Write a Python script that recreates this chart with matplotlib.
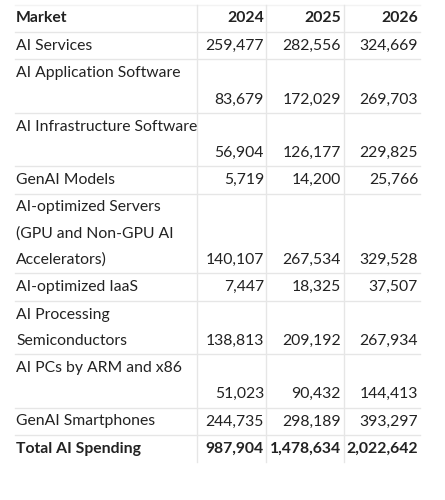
import matplotlib
matplotlib.use("Agg")
import matplotlib.pyplot as plt

header = ["Market", "2024", "2025", "2026"]
markets = [["AI Services"], ["AI Application Software", ""], ["AI Infrastructure Software", ""],
           ["GenAI Models"], ["AI-optimized Servers", "(GPU and Non-GPU AI", "Accelerators)"],
           ["AI-optimized IaaS"], ["AI Processing", "Semiconductors"], ["AI PCs by ARM and x86", ""],
           ["GenAI Smartphones"], ["Total AI Spending"]]
v2024 = ["259,477", "83,679", "56,904", "5,719", "140,107", "7,447", "138,813", "51,023", "244,735", "987,904"]
v2025 = ["282,556", "172,029", "126,177", "14,200", "267,534", "18,325", "209,192", "90,432", "298,189", "1,478,634"]
v2026 = ["324,669", "269,703", "229,825", "25,766", "329,528", "37,507", "267,934", "144,413", "393,297", "2,022,642"]

W, H = 445, 500
fig = plt.figure(figsize=(W/100, H/100), dpi=100)
ax = fig.add_axes([0, 0, 1, 1])
ax.set_xlim(0, W); ax.set_ylim(H, 0); ax.axis("off")

fam = ["Lato", "DejaVu Sans"]
fs = 11.3
lh = 26.25
xl, xr = 15, 420
col_edges = [15, 197, 266, 344, 420]
right_x = [None, 264, 341, 418]
grid = "#e6e6e6"

y0 = 5
lines_y = [y0]
y = y0
ax.text(16, y + 13, header[0], fontsize=fs, fontweight="bold", family=fam, va="center", color="#222")
for j in range(1, 4):
    ax.text(right_x[j], y + 13, header[j], fontsize=fs, fontweight="bold", family=fam, va="center", ha="right", color="#222")
y += 27
lines_y.append(y)
for i, m in enumerate(markets):
    bold = i == len(markets) - 1
    fw = "bold" if bold else "normal"
    for k, t in enumerate(m):
        ax.text(16, y + 14 + k*lh, t, fontsize=fs, fontweight=fw, family=fam, va="center", color="#222")
    yl = y + 14 + (len(m)-1)*lh
    for j, vals in enumerate([v2024, v2025, v2026], start=1):
        ax.text(right_x[j], yl, vals[i], fontsize=fs, fontweight=fw, family=fam, va="center", ha="right", color="#222")
    y += len(m)*lh + 1
    lines_y.append(y)

for ly in lines_y[1:-1]:
    ax.plot([xl, xr], [ly, ly], color=grid, lw=1)
ax.plot([xl, xr], [lines_y[0], lines_y[0]], color="#f3f3f3", lw=1)
for cx in col_edges[1:-1]:
    ax.plot([cx, cx], [lines_y[0], lines_y[-1]], color=grid, lw=1)

fig.savefig("out.png", dpi=100, facecolor="white")
